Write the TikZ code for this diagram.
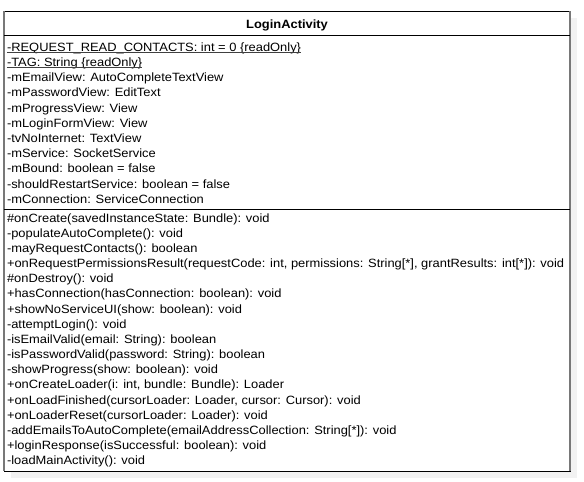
\documentclass[tikz,border=0pt]{standalone}
\usepackage{fontspec}
\setmainfont{Liberation Sans}
\newfontfamily\umlfont[FakeStretch=1.075]{Liberation Sans}
\usetikzlibrary{positioning}
\definecolor{shadowgray}{RGB}{242,242,242}
\definecolor{sidegray}{RGB}{120,120,120}

\begin{document}
\begin{tikzpicture}[x=1pt, y=-1pt,
  member/.style = {anchor=base west, inner sep=0pt, font=\umlfont\fontsize{12}{14}\selectfont},
  static/.style = {black!75, line width=0.9pt}]
\useasboundingbox (0,0) rectangle (584,482);
\coordinate (tl) at (4, 11);
\coordinate (br) at (570, 471);
\coordinate (s1) at (4, 35.5);
\coordinate (s2) at (4, 209);

% shadow and box
\fill[shadowgray] (11,18) rectangle (577,478);
\fill[white] (tl) rectangle (br);
\draw[line width=1pt] (tl) rectangle (br);
\draw[sidegray, line width=1.4pt] (tl) -- (4,471);
\draw[sidegray, line width=1.6pt] (570,11) -- (br);
\draw[line width=1pt] (s1) -- (570, 35.5);
\draw[line width=1pt] (s2) -- (570, 209);

\node[font=\umlfont\fontsize{12}{14}\selectfont\bfseries, anchor=base, inner sep=0pt] (name) at (287, 28) {LoginActivity};

% attributes
\foreach \txt [count=\i from 0] in {
  {-REQUEST\_READ\_CONTACTS: int = 0 \{readOnly\}},
  {-TAG: String \{readOnly\}},
  {-mEmailView: AutoCompleteTextView},
  {-mPasswordView: EditText},
  {-mProgressView: View},
  {-mLoginFormView: View},
  {-tvNoInternet: TextView},
  {-mService: SocketService},
  {-mBound: boolean = false},
  {-shouldRestartService: boolean = false},
  {-mConnection: ServiceConnection}}
  \node[member] (attr-\i) at (6.8, 51.2 + 15.2*\i) {\txt};

\draw[static] ([yshift=-1.4pt]attr-0.base west) -- ([yshift=-1.4pt]attr-0.base east);
\draw[static] ([yshift=-1.4pt]attr-1.base west) -- ([yshift=-1.4pt]attr-1.base east);

% operations
\foreach \txt [count=\i from 0] in {
  {\#onCreate(savedInstanceState: Bundle): void},
  {-populateAutoComplete(): void},
  {-mayRequestContacts(): boolean},
  {+onRequestPermissionsResult(requestCode: int, permissions: String[*], grantResults: int[*]): void},
  {\#onDestroy(): void},
  {+hasConnection(hasConnection: boolean): void},
  {+showNoServiceUI(show: boolean): void},
  {-attemptLogin(): void},
  {-isEmailValid(email: String): boolean},
  {-isPasswordValid(password: String): boolean},
  {-showProgress(show: boolean): void},
  {+onCreateLoader(i: int, bundle: Bundle): Loader},
  {+onLoadFinished(cursorLoader: Loader, cursor: Cursor): void},
  {+onLoaderReset(cursorLoader: Loader): void},
  {-addEmailsToAutoComplete(emailAddressCollection: String[*]): void},
  {+loginResponse(isSuccessful: boolean): void},
  {-loadMainActivity(): void}}
  \node[member] (op-\i) at (6.8, 222.2 + 15.15*\i) {\txt};
\end{tikzpicture}
\end{document}
